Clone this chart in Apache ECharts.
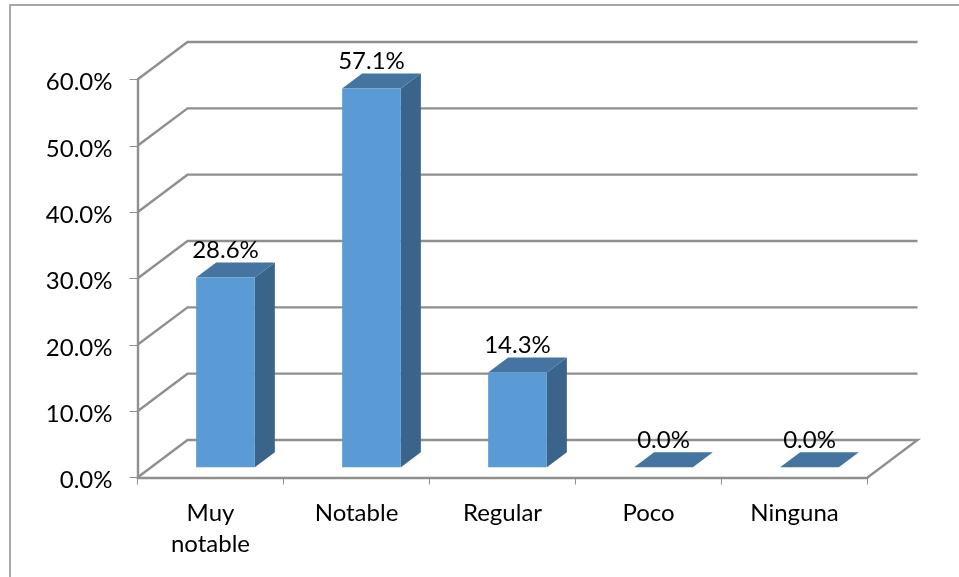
<!DOCTYPE html>
<html>
<head>
<meta charset="utf-8">
<style>html,body{margin:0;padding:0;background:#fff}#chart{width:959px;height:577px}</style>
<script src="https://cdn.jsdelivr.net/npm/echarts@6/dist/echarts.min.js"></script>
</head>
<body>
<div id="chart"></div>
<script>
// Survey responses, percent of respondents per rating
const categories = ['Muy\nnotable', 'Notable', 'Regular', 'Poco', 'Ninguna'];
const percentages = [28.6, 57.1, 14.3, 0.0, 0.0];
const yTicks = [0, 10, 20, 30, 40, 50, 60];

// Oblique projection of the chart box, in pixels
const WALL_DX = 50, WALL_DY = -37.5;
const BAR_DX = 20, BAR_DY = -15;
const BAR_SHIFT_X = 15, BAR_SHIFT_Y = -10.2;
const BAR_WIDTH = 58.7;
const LINE = '#8f8f8f';
const FONT = 'Lato, "Open Sans", sans-serif';
const FONT_SIZE = 24;

const chart = echarts.init(document.getElementById('chart'), null, { renderer: 'canvas' });

function renderWall(params, api) {
  const v = api.value(0);
  const cs = params.coordSys;
  const y = api.coord([0, v])[1];
  const left = cs.x, right = cs.x + cs.width;
  const pts = [[left, y], [left + WALL_DX, y + WALL_DY], [right + WALL_DX, y + WALL_DY]];
  if (v === 0) pts.push([right, y]);
  return {
    type: 'polyline',
    shape: { points: pts },
    style: { stroke: LINE, lineWidth: 2.4, fill: null }
  };
}

function renderBar(params, api) {
  const base = api.coord([api.value(0), 0]);
  const top = api.coord([api.value(0), api.value(1)]);
  const x0 = base[0] + BAR_SHIFT_X - BAR_WIDTH / 2;
  const x1 = x0 + BAR_WIDTH;
  const yb = base[1] + BAR_SHIFT_Y;
  const yt = top[1] + BAR_SHIFT_Y;
  const poly = (points, fill) => ({ type: 'polygon', shape: { points }, style: { fill } });
  return {
    type: 'group',
    children: [
      poly([[x1, yb], [x1 + BAR_DX, yb + BAR_DY], [x1 + BAR_DX, yt + BAR_DY], [x1, yt]], '#3a6489'),
      poly([[x0, yt], [x1, yt], [x1 + BAR_DX, yt + BAR_DY], [x0 + BAR_DX, yt + BAR_DY]], '#44749f'),
      poly([[x0, yb], [x1, yb], [x1, yt], [x0, yt]], '#5b9bd5'),
      {
        type: 'text',
        z2: 10,
        style: {
          x: (x0 + x1) / 2,
          y: yt - 27,
          text: api.value(1).toFixed(1) + '%',
          fill: '#000',
          font: FONT_SIZE + 'px ' + FONT,
          align: 'center',
          verticalAlign: 'middle'
        }
      }
    ]
  };
}

chart.setOption({
  animation: false,
  backgroundColor: '#fff',
  graphic: [{
    type: 'polyline',
    silent: true,
    shape: { points: [[10, 577], [10, 5], [959, 5]] },
    style: { stroke: '#a8a8a8', lineWidth: 2, fill: null }
  }],
  grid: { left: 137.5, top: 79.5, width: 730, height: 398 },
  xAxis: {
    type: 'category',
    data: categories,
    axisLine: { lineStyle: { color: LINE, width: 2.4 } },
    axisTick: { show: true, alignWithLabel: false, length: 7, lineStyle: { color: LINE, width: 1 } },
    axisLabel: { color: '#000', fontFamily: FONT, fontSize: FONT_SIZE, margin: 20, lineHeight: 31, interval: 0 },
    splitLine: { show: false }
  },
  yAxis: {
    type: 'value',
    min: 0,
    max: 60,
    interval: 10,
    axisLine: { show: true, lineStyle: { color: LINE, width: 2.4 } },
    axisTick: { show: true, length: 8, lineStyle: { color: LINE, width: 1 } },
    axisLabel: { color: '#000', fontFamily: FONT, fontSize: FONT_SIZE, margin: 25, verticalAlign: 'top', lineHeight: 6, formatter: v => v.toFixed(1) + '%' },
    splitLine: { show: false }
  },
  series: [
    {
      type: 'custom',
      name: 'wall',
      coordinateSystem: 'cartesian2d',
      silent: true,
      z: 1,
      renderItem: renderWall,
      encode: { y: 0 },
      data: yTicks.map(v => [v])
    },
    {
      type: 'custom',
      name: 'Porcentaje',
      coordinateSystem: 'cartesian2d',
      z: 2,
      renderItem: renderBar,
      encode: { x: 0, y: 1 },
      data: percentages.map((v, i) => [i, v])
    }
  ]
});
</script>
</body>
</html>
